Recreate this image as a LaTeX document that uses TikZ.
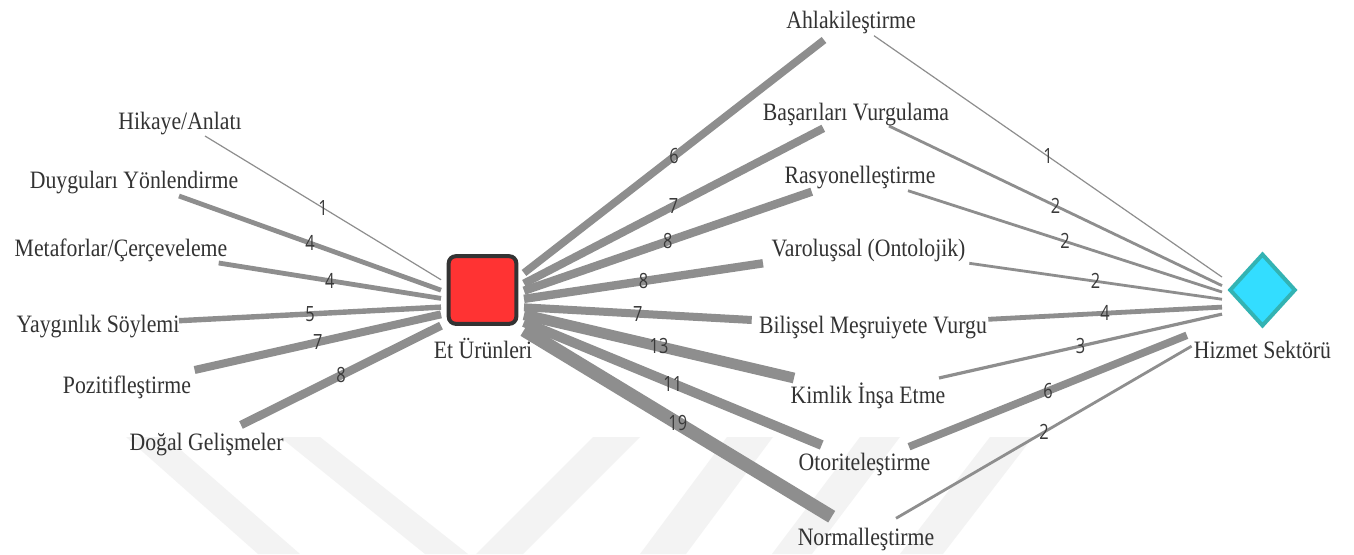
\documentclass[tikz,border=0pt]{standalone}
\usepackage{fontspec}
\usetikzlibrary{shapes.geometric}
\newfontfamily\lblfont{Liberation Serif}[FakeStretch=0.87]
\newfontfamily\numfont{Open Sans}[FakeStretch=0.78]

\definecolor{edgegray}{HTML}{8E8E8E}
\definecolor{lbltext}{HTML}{333333}
\definecolor{numtext}{HTML}{3A3A3A}
\definecolor{sqfill}{HTML}{FF3333}
\definecolor{sqdraw}{HTML}{333333}
\definecolor{dmfill}{HTML}{33DDFF}
\definecolor{dmdraw}{HTML}{33B3B3}
\definecolor{wmark}{HTML}{F3F3F3}

\begin{document}
\begin{tikzpicture}[x=1pt,y=-1pt,
  concept/.style={anchor=base, inner sep=0pt, text=lbltext,
    font=\lblfont\fontsize{25}{30}\selectfont},
  hubbox/.style={rectangle, inner sep=0pt, outer sep=0pt,
    minimum width=83pt, minimum height=100pt},
  link/.style={draw=edgegray, line cap=butt},
  wlbl/.style={text=numtext, font=\numfont\fontsize{21}{25}\selectfont, inner sep=0pt},
  wA/.style={link, line width=1.2pt},
  wB/.style={link, line width=2.8pt},
  wC/.style={link, line width=3.2pt},
  wD/.style={link, line width=4.8pt},
  wE/.style={link, line width=5.4pt},
  wF/.style={link, line width=7.6pt},
  wG/.style={link, line width=8pt},
  wH/.style={link, line width=8.4pt},
  wK/.style={link, line width=9.8pt},
  wM/.style={link, line width=10.8pt},
  wS/.style={link, line width=13.5pt},
]
\useasboundingbox (0,0) rectangle (1354,554);
\fill[white] (0,0) rectangle (1354,554);

% faint background stripes
\begin{scope}[fill=wmark]
  \fill (126,437) -- (166,437) -- (300,554) -- (258,554) -- cycle;
  \fill (280,437) -- (320,437) -- (468,554) -- (425,554) -- cycle;
  \fill (593,437) -- (640,437) -- (523,554) -- (476,554) -- cycle;
  \fill (727,437) -- (773,437) -- (686,554) -- (640,554) -- cycle;
  \fill (860,437) -- (900,437) -- (812,554) -- (772,554) -- cycle;
  \fill (990,437) -- (1033,437) -- (943,554) -- (900,554) -- cycle;
\end{scope}

% hubs (edge targets)
\node[hubbox] (et) at (482.5,305) {};
\node[hubbox, minimum width=81pt] (hiz) at (1262.5,305) {};

% edge ends at the concepts
\coordinate (hikE) at (205,136);
\coordinate (duyE) at (179,196);
\coordinate (metE) at (218.7,263);
\coordinate (yayE) at (179,320.7);
\coordinate (pozE) at (194.6,370);
\coordinate (dogE) at (241,425);

\coordinate (ahlE) at (824,40);     \coordinate (ahlH) at (874,35.7);
\coordinate (basE) at (823.3,128.3);\coordinate (basH) at (889,126);
\coordinate (rasE) at (811.7,191.7);\coordinate (rasH) at (908,190.7);
\coordinate (varE) at (763,263.3);  \coordinate (varH) at (969.3,263.3);
\coordinate (bilE) at (751.7,320);  \coordinate (bilH) at (988.3,319.3);
\coordinate (kimE) at (794,378);    \coordinate (kimH) at (939,378);
\coordinate (otoE) at (821.7,445);  \coordinate (otoH) at (909,446.7);
\coordinate (norE) at (831.7,516.7);\coordinate (norH) at (896,518.3);

% links to Et Ürünleri
\draw[wA] (hikE) -- (et) node[midway, wlbl] {1};
\draw[wD] (duyE) -- (et) node[midway, wlbl] {4};
\draw[wD] (metE) -- (et) node[midway, wlbl] {4};
\draw[wE] (yayE) -- (et) node[midway, wlbl] {5};
\draw[wG] (pozE) -- (et) node[midway, wlbl] {7};
\draw[wH] (dogE) -- (et) node[midway, wlbl] {8};

\draw[wF] (ahlE) -- (et) node[midway, wlbl] {6};
\draw[wG] (basE) -- (et) node[midway, wlbl] {7};
\draw[wH] (rasE) -- (et) node[midway, wlbl] {8};
\draw[wH] (varE) -- (et) node[midway, wlbl] {8};
\draw[wG] (bilE) -- (et) node[midway, wlbl] {7};
\draw[wM] (kimE) -- (et) node[midway, wlbl] {13};
\draw[wK] (otoE) -- (et) node[midway, wlbl] {11};
\draw[wS] (norE) -- (et) node[midway, wlbl] {19};

% links to Hizmet Sektörü
\draw[wA] (ahlH) -- (hiz) node[midway, wlbl] {1};
\draw[wB] (basH) -- (hiz) node[midway, wlbl] {2};
\draw[wB] (rasH) -- (hiz) node[midway, wlbl] {2};
\draw[wB] (varH) -- (hiz) node[midway, wlbl] {2};
\draw[wD] (bilH) -- (hiz) node[midway, wlbl] {4};
\draw[wC] (kimH) -- (hiz) node[midway, wlbl] {3};
\draw[wF, shorten >=37.9pt] (otoH) -- (hiz) node[pos=0.444, wlbl] {6};
\draw[wB, shorten >=35.2pt] (norH) -- (hiz) node[pos=0.454, wlbl] {2};

% hub shapes
\node[draw=sqdraw, fill=sqfill, line width=4pt, rounded corners=7pt,
  minimum size=67.6pt, inner sep=0pt] (etsq) at (482.5,290) {};
\node[diamond, draw=dmdraw, fill=dmfill, line width=4pt,
  minimum width=66.2pt, minimum height=72.6pt, inner sep=0pt] (hizdm) at (1262.5,290) {};

% labels
\node[concept] (hikL) at (180,129) {Hikaye/Anlatı};
\node[concept] (duyL) at (134,188) {Duyguları Yönlendirme};
\node[concept] (metL) at (121,256) {Metaforlar/Çerçeveleme};
\node[concept] (yayL) at (98,332) {Yaygınlık Söylemi};
\node[concept] (pozL) at (127,393) {Pozitifleştirme};
\node[concept] (dogL) at (206.6,450) {Doğal Gelişmeler};
\node[concept] (etL) at (483,358) {Et Ürünleri};

\node[concept] (ahlL) at (851,28.3) {Ahlakileştirme};
\node[concept] (basL) at (856,120) {Başarıları Vurgulama};
\node[concept] (rasL) at (860,183) {Rasyonelleştirme};
\node[concept] (varL) at (868.5,256.7) {Varoluşsal (Ontolojik)};
\node[concept] (bilL) at (873,333) {Bilişsel Meşruiyete Vurgu};
\node[concept] (kimL) at (868,403) {Kimlik İnşa Etme};
\node[concept] (otoL) at (864.5,470.7) {Otoriteleştirme};
\node[concept] (norL) at (866,545) {Normalleştirme};
\node[concept] (hizL) at (1262.5,358) {Hizmet Sektörü};
\end{tikzpicture}
\end{document}
